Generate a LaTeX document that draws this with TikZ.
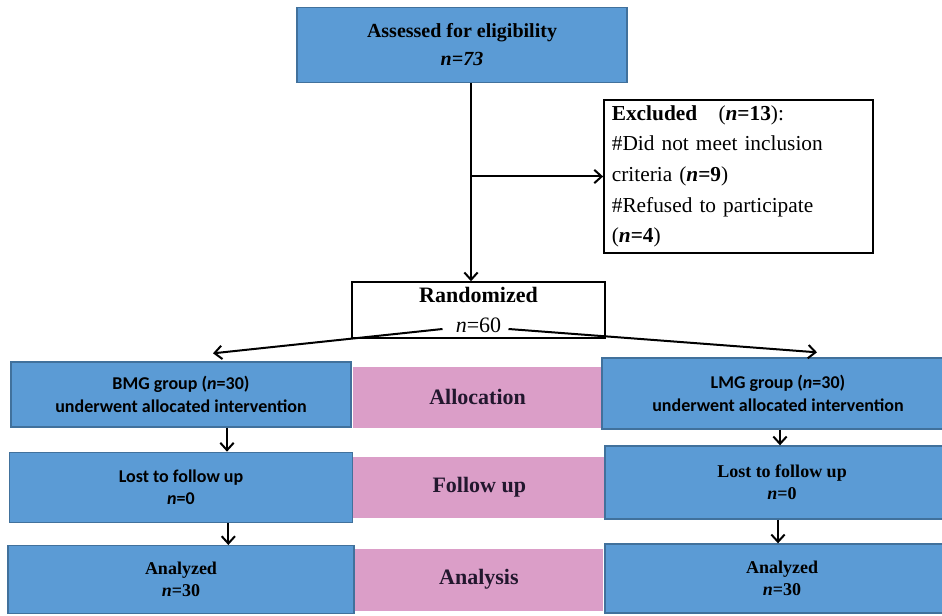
\documentclass[tikz,border=0pt]{standalone}
\usepackage{fontspec}
\setmainfont{Liberation Serif}
\newfontfamily\calibri{Carlito}
\usepackage{xcolor}
\definecolor{boxblue}{HTML}{5B9BD5}
\definecolor{boxedge}{HTML}{41719C}
\definecolor{phasepink}{HTML}{DB9EC8}
\definecolor{phaseink}{HTML}{22172E}
\usepackage{tikz}
\usetikzlibrary{arrows.meta, positioning}

\begin{document}
\begin{tikzpicture}[
  x=0.75pt, y=-0.75pt,
  every node/.style={align=center},
  bluebox/.style={rectangle, draw=boxedge, fill=boxblue, line width=1pt, inner sep=2pt},
  whitebox/.style={rectangle, draw=black, fill=white, line width=1.1pt, inner sep=3pt},
  phasebox/.style={rectangle, fill=phasepink, inner sep=2pt, text=phaseink,
    font=\bfseries\fontsize{16.5}{20}\selectfont},
  sanstext/.style={font=\calibri\bfseries\fontsize{13.5}{17}\selectfont},
  seriftext/.style={font=\bfseries\fontsize{13.5}{16.5}\selectfont},
  arrow/.style={-{Straight Barb[length=5.5pt, width=10pt]}, line width=1.5pt},
]
  \useasboundingbox (0,0) rectangle (942,616);
  \clip (0,0) rectangle (942,616);

  % enrolment
  \node[bluebox, minimum width=247.5pt, minimum height=56.25pt,
    font=\bfseries\fontsize{15}{21}\selectfont] (assess) at (462,45)
    {Assessed for eligibility \\ \textit{n=73}};
  \node[whitebox, minimum width=202pt, minimum height=115pt, text width=190pt,
    align=left, font=\fontsize{16}{23}\selectfont] (excl) at (738.5,176.5)
    {\textbf{Excluded}\quad(\textbf{\textit{n}=13}):\\
     \#Did not meet inclusion\\
     criteria (\textbf{\textit{n}=9})\\
     \#Refused to participate\\
     (\textbf{\textit{n}=4})};
  \node[whitebox, minimum width=190pt, minimum height=42pt,
    font=\fontsize{16.5}{22}\selectfont] (rand) at (478.5,310)
    {\textbf{Randomized} \\ \textit{n}=60};

  % BMG arm
  \node[bluebox, sanstext, minimum width=255pt, minimum height=48.75pt] (bmg) at (181,394.5)
    {BMG group (\textit{n}=30) \\ underwent allocated intervention};
  \node[bluebox, sanstext, minimum width=257pt, minimum height=52.5pt,
    below=18pt of bmg] (bmglost)
    {Lost to follow up \\ \textit{n}=0};
  \node[bluebox, seriftext, minimum width=259.5pt, minimum height=51pt,
    below=16.5pt of bmglost] (bmgan)
    {Analyzed \\ \textit{n}=30};

  % phases
  \node[phasebox, minimum width=187.5pt, minimum height=45.75pt,
    right=0.5pt of bmg, yshift=-2pt] (alloc) {Allocation};
  \node[phasebox, minimum width=189pt, minimum height=45.75pt,
    right=0pt of bmglost] (fup) {Follow up};
  \node[phasebox, minimum width=186pt, minimum height=46.5pt,
    right=0pt of bmgan] (analysis) {Analysis};

  % LMG arm
  \node[bluebox, sanstext, minimum width=264pt, minimum height=53.25pt] (lmg) at (778,393.5)
    {LMG group (\textit{n}=30) \\ underwent allocated intervention};
  \node[bluebox, seriftext, minimum width=265.5pt, minimum height=54.75pt] (lmglost) at (782,482.5)
    {Lost to follow up \\ \textit{n}=0};
  \node[bluebox, seriftext, minimum width=265.5pt, minimum height=51.75pt] (lmgan) at (782,578.5)
    {Analyzed \\ \textit{n}=30};

  \coordinate (trunk) at ([xshift=6.75pt]assess.south);
  \coordinate (splitL) at ([shift={(-36,19)}]rand.center);
  \coordinate (splitR) at ([shift={(30,19)}]rand.center);
  \coordinate (dropL1) at ([xshift=34.5pt]bmg.south);
  \coordinate (dropL2) at ([xshift=35.5pt]bmglost.south);
  \coordinate (dropR1) at ([xshift=1.5pt]lmg.south);
  \coordinate (dropR2) at ([xshift=-3pt]lmglost.south);

  \draw[arrow] (trunk) -- (trunk |- rand.north);
  \draw[arrow] (trunk |- excl.west) -- (excl.west);
  \draw[arrow] (splitL) -- ([shift={(32,-8)}]bmg.north);
  \draw[arrow] (splitR) -- ([shift={(39,-5)}]lmg.north);
  \draw[arrow] (dropL1) -- (dropL1 |- bmglost.north);
  \draw[arrow] (dropL2) -- (dropL2 |- bmgan.north);
  \draw[arrow] (dropR1) -- (dropR1 |- lmglost.north);
  \draw[arrow] (dropR2) -- (dropR2 |- lmgan.north);
\end{tikzpicture}
\end{document}
